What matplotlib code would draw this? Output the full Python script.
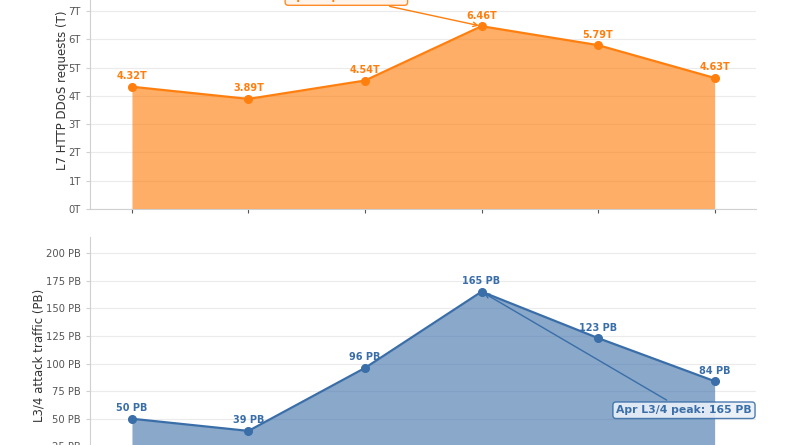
import matplotlib
matplotlib.use("Agg")
import matplotlib.pyplot as plt

months = ["Jan", "Feb", "Mar", "Apr", "May", "Jun"]
l7_requests = [4.32, 3.89, 4.54, 6.46, 5.79, 4.63]
l34_traffic = [50, 39, 96, 165, 123, 84]
l7_ticks = [0, 1, 2, 3, 4, 5, 6, 7, 8]
l34_ticks = [0, 25, 50, 75, 100, 125, 150, 175, 200]

orange = "#ff7f0e"
blue = "#3a6ea8"
grid_c = "#ebebeb"
spine_c = "#d0d0d0"
tick_c = "#555555"

fig = plt.figure(figsize=(8, 4.45), dpi=100)
ax1 = fig.add_axes([0.1125, 0.53034, 0.8325, 0.5340])
ax2 = fig.add_axes([0.1125, -0.06517, 0.8325, 0.5326], sharex=ax1)

x = list(range(len(months)))

def style(ax):
    for s in ["top", "right"]:
        ax.spines[s].set_visible(False)
    for s in ["left", "bottom"]:
        ax.spines[s].set_color(spine_c)
    ax.grid(axis="y", color=grid_c, linewidth=0.8)
    ax.set_axisbelow(True)
    ax.tick_params(colors=tick_c, labelsize=7.2, length=3, width=0.8)
    ax.tick_params(axis="y", colors=spine_c, labelcolor=tick_c)
    ax.tick_params(axis="x", colors=tick_c)

# top
ax1.fill_between(x, l7_requests, color=orange, alpha=0.63, linewidth=0)
ax1.plot(x, l7_requests, color=orange, linewidth=1.6, marker="o", markersize=5.5)
for xi, v in zip(x, l7_requests):
    ax1.annotate(f"{v:.2f}T", (xi, v), xytext=(0, 4), textcoords="offset points",
                 ha="center", va="bottom", fontsize=7, fontweight="bold", color=orange)
ax1.set_ylim(0, max(l7_requests) * 1.3)
ax1.set_yticks(l7_ticks)
ax1.set_yticklabels([f"{t}T" for t in l7_ticks])
ax1.set_ylabel("L7 HTTP DDoS requests (T)", fontsize=8.5, color="#333333", labelpad=0)
style(ax1)
ax1.tick_params(axis="x", labelbottom=False)
ax1.annotate("Apr L7 peak: 6.46T", xy=(3, l7_requests[3]), xytext=(1.84, 7.49),
             ha="center", va="center", fontsize=7.8, fontweight="bold", color=orange,
             bbox=dict(boxstyle="round,pad=0.3", fc="#fff4ea", ec=orange, lw=1, alpha=0.9),
             arrowprops=dict(arrowstyle="->", color=orange, lw=1))

# bottom
ax2.fill_between(x, l34_traffic, color=blue, alpha=0.6, linewidth=0)
ax2.plot(x, l34_traffic, color=blue, linewidth=1.6, marker="o", markersize=5.5)
for xi, v in zip(x, l34_traffic):
    ax2.annotate(f"{v} PB", (xi, v), xytext=(0, 4), textcoords="offset points",
                 ha="center", va="bottom", fontsize=7, fontweight="bold", color=blue)
ax2.set_ylim(0, max(l34_traffic) * 1.3)
ax2.set_yticks(l34_ticks)
ax2.set_yticklabels([f"{t} PB" for t in l34_ticks])
ax2.set_ylabel("L3/4 attack traffic (PB)", fontsize=8.5, color="#333333", labelpad=0)
style(ax2)
ax2.set_xticks(x)
ax2.set_xticklabels(months)
ax2.set_xlim(-0.36, 5.355)
ax2.annotate("Apr L3/4 peak: 165 PB", xy=(3, l34_traffic[3]), xytext=(4.737, 57.7),
             ha="center", va="center", fontsize=7.8, fontweight="bold", color=blue,
             bbox=dict(boxstyle="round,pad=0.3", fc="#eaf0f8", ec=blue, lw=1, alpha=0.9),
             arrowprops=dict(arrowstyle="->", color=blue, lw=1))

fig.savefig("out.png", dpi=100)
